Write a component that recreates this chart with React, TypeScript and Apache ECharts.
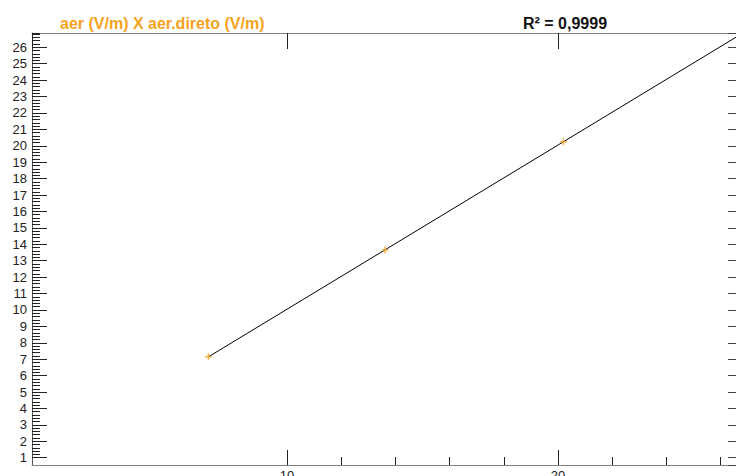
import React, { useEffect, useRef } from "react";
import * as echarts from "echarts";

// ---- data ----
const xValues: number[] = [7.1, 13.62, 20.2];
const yValues: number[] = [7.15, 13.65, 20.25];
const titleText = "aer (V/m) X aer.direto (V/m)";
const r2Text = "R² = 0,9999";
const X_MIN = 0.59;
const X_MAX = 26.57;
const Y_MIN = 0.556;
const Y_MAX = 26.87;
const X_MAJOR = 10;
const X_MINOR = 2;
const X_MINOR_START = 10;
const Y_MAJOR = 1;
const Y_MINOR = 0.2;
const Y_MINOR_START = 1;

const FONT = "'Liberation Sans', Arial, sans-serif";
const ORANGE = "#F5A21E";

function regression(xs: number[], ys: number[]) {
  const n = xs.length;
  const mx = xs.reduce((a, b) => a + b, 0) / n;
  const my = ys.reduce((a, b) => a + b, 0) / n;
  let sxy = 0;
  let sxx = 0;
  for (let i = 0; i < n; i++) {
    sxy += (xs[i] - mx) * (ys[i] - my);
    sxx += (xs[i] - mx) * (xs[i] - mx);
  }
  const b = sxy / sxx;
  return { a: my - b * mx, b };
}

export default function App() {
  const ref = useRef<HTMLDivElement>(null);
  useEffect(() => {
    if (!ref.current) return;
    const chart = echarts.init(ref.current, undefined, { renderer: "svg" });
    const W = 736;
    const H = 476;
    const gl = 32;
    const gt = 33;
    const gr = 0;
    const gb = 11;
    const plotW = W - gl - gr;
    const plotH = H - gt - gb;
    const xPx = (v: number) => gl + ((v - X_MIN) / (X_MAX - X_MIN)) * plotW;
    const yPx = (v: number) => gt + ((Y_MAX - v) / (Y_MAX - Y_MIN)) * plotH;

    const { a, b } = regression(xValues, yValues);
    const x0 = Math.min(...xValues);
    const lineData = [
      [x0, a + b * x0],
      [X_MAX, a + b * X_MAX],
    ];

    const tickColor = "#222";
    const axisColor = "#808080";

    chart.setOption({
      animation: false,
      backgroundColor: "#ffffff",
      grid: [
        { left: gl, top: gt, right: gr, bottom: gb, containLabel: false, outerBoundsMode: "none" },
        { left: gl, top: gt, right: gr, bottom: H - yPx(Y_MINOR_START), containLabel: false, outerBoundsMode: "none" },
        { left: xPx(X_MINOR_START), top: gt, right: gr, bottom: gb, containLabel: false, outerBoundsMode: "none" },
      ],
      xAxis: [
        {
          type: "value",
          gridIndex: 0,
          position: "bottom",
          min: X_MIN,
          max: X_MAX,
          minInterval: X_MAJOR,
          maxInterval: X_MAJOR,
          axisLine: { show: true, lineStyle: { color: axisColor, width: 1 } },
          axisTick: { show: true, inside: true, length: 15, lineStyle: { color: tickColor } },
          axisLabel: {
            show: true,
            margin: 4,
            color: "#222",
            fontSize: 13,
            fontFamily: FONT,
            showMinLabel: false,
            showMaxLabel: false,
          },
          splitLine: { show: false },
        },
        {
          type: "value",
          gridIndex: 0,
          position: "top",
          min: X_MIN,
          max: X_MAX,
          minInterval: X_MAJOR,
          maxInterval: X_MAJOR,
          axisLine: { show: true, lineStyle: { color: axisColor, width: 1 } },
          axisTick: { show: true, inside: true, length: 16, lineStyle: { color: tickColor } },
          axisLabel: { show: false },
          splitLine: { show: false },
        },
        {
          type: "value",
          gridIndex: 1,
          min: X_MIN,
          max: X_MAX,
          show: false,
        },
        {
          type: "value",
          gridIndex: 2,
          position: "bottom",
          min: X_MINOR_START,
          max: X_MAX,
          minInterval: X_MINOR,
          maxInterval: X_MINOR,
          axisLine: { show: false },
          axisTick: { show: true, inside: true, length: 8, lineStyle: { color: tickColor } },
          axisLabel: { show: false },
          splitLine: { show: false },
        },
      ],
      yAxis: [
        {
          type: "value",
          gridIndex: 0,
          position: "left",
          min: Y_MIN,
          max: Y_MAX,
          minInterval: Y_MAJOR,
          maxInterval: Y_MAJOR,
          axisLine: { show: true, lineStyle: { color: "#555", width: 1 } },
          axisTick: { show: true, inside: true, length: 15, lineStyle: { color: tickColor } },
          axisLabel: {
            show: true,
            margin: 5,
            color: "#222",
            fontSize: 13,
            fontFamily: FONT,
            showMinLabel: false,
            showMaxLabel: false,
          },
          splitLine: { show: false },
        },
        {
          type: "value",
          gridIndex: 0,
          position: "right",
          min: Y_MIN,
          max: Y_MAX,
          minInterval: Y_MAJOR,
          maxInterval: Y_MAJOR,
          axisLine: { show: false },
          axisTick: { show: true, inside: true, length: 8, lineStyle: { color: "#444" } },
          axisLabel: { show: false },
          splitLine: { show: false },
        },
        {
          type: "value",
          gridIndex: 1,
          position: "left",
          min: Y_MINOR_START,
          max: Y_MAX,
          minInterval: Y_MINOR,
          maxInterval: Y_MINOR,
          axisLine: { show: false },
          axisTick: { show: true, inside: true, length: 8, lineStyle: { color: tickColor } },
          axisLabel: { show: false },
          splitLine: { show: false },
        },
        {
          type: "value",
          gridIndex: 2,
          min: Y_MIN,
          max: Y_MAX,
          show: false,
        },
      ],
      graphic: [
        {
          type: "text",
          left: 60,
          top: 15,
          style: {
            text: titleText,
            fill: ORANGE,
            font: `bold 16px ${FONT}`,
          },
        },
        {
          type: "text",
          x: 565,
          y: 15,
          style: {
            text: r2Text,
            fill: "#111",
            font: `bold 16px ${FONT}`,
            align: "center",
            verticalAlign: "top",
          },
        },
      ],
      series: [
        {
          type: "line",
          xAxisIndex: 0,
          yAxisIndex: 0,
          data: lineData,
          symbol: "none",
          clip: true,
          lineStyle: { color: "#000", width: 1 },
          silent: true,
          z: 2,
        },
        {
          type: "scatter",
          xAxisIndex: 0,
          yAxisIndex: 0,
          data: xValues.map((x, i) => [x, yValues[i]]),
          symbol: "path://M5 0 L5 10 M0 5 L10 5",
          symbolSize: 7,
          itemStyle: { color: "transparent", borderColor: ORANGE, borderWidth: 1.5 },
          z: 3,
        },
      ],
    });
    return () => chart.dispose();
  }, []);
  return (
    <div
      ref={ref}
      style={{ position: "fixed", left: 0, top: 0, width: 736, height: 476, background: "#fff" }}
    />
  );
}
